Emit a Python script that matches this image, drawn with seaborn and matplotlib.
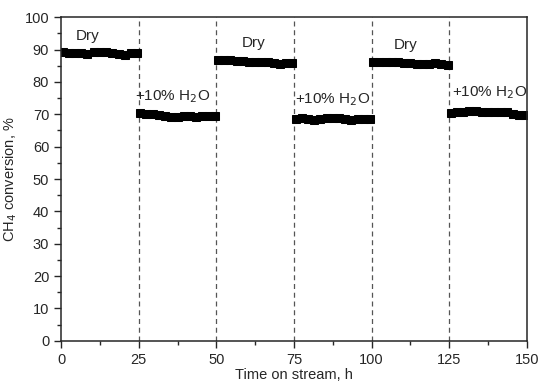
import numpy as np
import pandas as pd
import matplotlib.pyplot as plt
import seaborn as sns

# time on stream, h (points every 2 h inside each 25 h period)
seg_starts = [0, 25, 50, 75, 100, 125]
offsets = [0, 2, 4, 6, 8, 10, 12, 14, 16, 18, 20, 22, 24]

dry_1 = [89.2, 89.0, 89.0, 88.8, 88.6, 89.1, 89.3, 89.1, 88.8, 88.6, 88.2, 88.8, 89.0]
wet_1 = [70.3, 70.2, 70.0, 69.8, 69.6, 69.3, 69.2, 69.5, 69.6, 69.3, 69.6, 69.4, 69.5]
dry_2 = [86.9, 86.8, 86.8, 86.6, 86.4, 86.2, 86.1, 86.0, 86.0, 85.8, 85.5, 85.7, 85.8]
wet_2 = [68.5, 68.7, 68.5, 68.3, 68.6, 68.8, 68.9, 68.7, 68.4, 68.3, 68.4, 68.5, 68.6]
dry_3 = [86.3, 86.2, 86.1, 86.0, 86.0, 85.9, 85.7, 85.6, 85.5, 85.6, 85.8, 85.6, 85.2]
wet_3 = [70.3, 70.6, 70.8, 70.9, 70.9, 70.8, 70.8, 70.7, 70.6, 70.6, 70.0, 69.8, 69.8]

segments = [dry_1, wet_1, dry_2, wet_2, dry_3, wet_3]
switch_times = [25, 50, 75, 100, 125]

rows = []
for k, (start, vals) in enumerate(zip(seg_starts, segments)):
    for off, v in zip(offsets, vals):
        rows.append({"time": start + off + 0.5, "conv": v, "seg": k})
df = pd.DataFrame(rows)

sns.set_style("ticks")
plt.rcParams['font.family'] = ['Liberation Sans', 'DejaVu Sans']
plt.rcParams['font.size'] = 10

fig = plt.figure(figsize=(5.5, 3.9), dpi=100)
ax = fig.add_axes([0.111, 0.126, 0.847, 0.830])

sns.lineplot(data=df, x="time", y="conv", units="seg", estimator=None,
             color="black", marker="s", markersize=6, markeredgecolor="black",
             linewidth=3.5, ax=ax)

for t in switch_times:
    ax.axvline(t, color="#555555", linestyle=(0, (4, 3)), linewidth=0.9, zorder=0)

ax.text(8.7, 94.3, "Dry", ha="center", va="center", fontsize=11)
ax.text(62, 92.0, "Dry", ha="center", va="center", fontsize=11)
ax.text(111, 91.5, "Dry", ha="center", va="center", fontsize=11)
ax.text(36, 75.4, "+10% H$_2$O", ha="center", va="center", fontsize=11)
ax.text(87.5, 74.6, "+10% H$_2$O", ha="center", va="center", fontsize=11)
ax.text(138, 76.6, "+10% H$_2$O", ha="center", va="center", fontsize=11)

ax.set_xlim(0, 150)
ax.set_ylim(0, 100)
ax.set_xticks([0, 25, 50, 75, 100, 125, 150])
ax.set_xticks(np.arange(12.5, 150, 25), minor=True)
ax.set_yticks(np.arange(0, 101, 10))
ax.set_yticks(np.arange(5, 100, 10), minor=True)
ax.tick_params(which="major", direction="out", length=5, width=1, labelsize=10.5)
ax.tick_params(which="minor", direction="out", length=3, width=1)

ax.set_xlabel("Time on stream, h", fontsize=10.5, labelpad=1)
ax.set_ylabel("CH$_4$ conversion, %", fontsize=10.5, labelpad=4)

for s in ax.spines.values():
    s.set_linewidth(1.1)
    s.set_visible(True)

fig.savefig("out.png", dpi=100)
